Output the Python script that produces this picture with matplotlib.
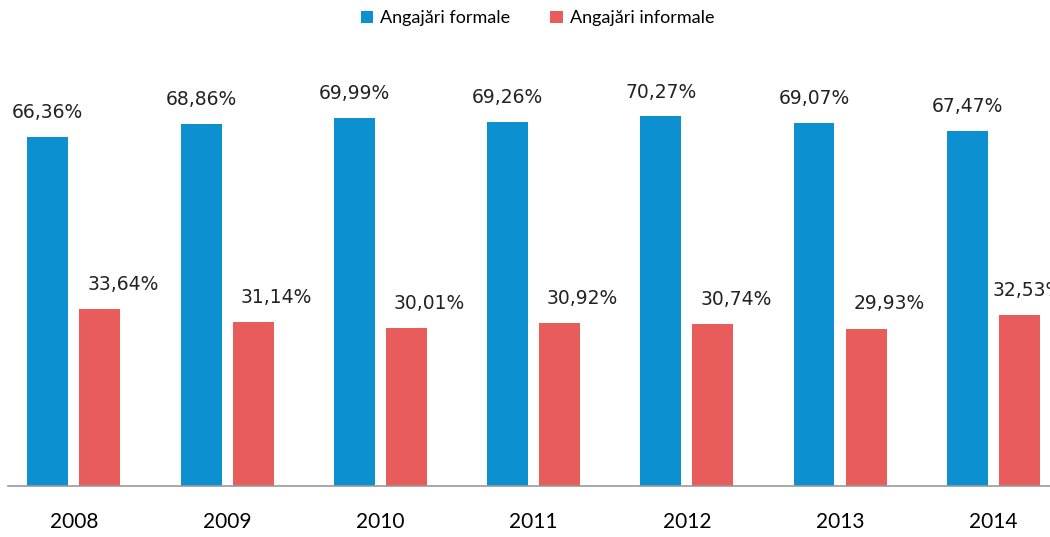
import matplotlib.pyplot as plt
import numpy as np

# datos
years = ['2008', '2009', '2010', '2011', '2012', '2013', '2014']
formale = [66.36, 68.86, 69.99, 69.26, 70.27, 69.07, 67.47]
informale = [33.64, 31.14, 30.01, 30.92, 30.74, 29.93, 32.53]
labels_formale = ['66,36%', '68,86%', '69,99%', '69,26%', '70,27%', '69,07%', '67,47%']
labels_informale = ['33,64%', '31,14%', '30,01%', '30,92%', '30,74%', '29,93%', '32,53%']

blue = '#0c90cf'
red = '#e85c5c'

fig = plt.figure(figsize=(10.5, 5.37), dpi=100)
ax = fig.add_axes([8 / 1050, 51 / 537, 1042 / 1050, 446 / 537])

x = np.arange(len(years))
w = 0.267
b1 = ax.bar(x - 0.17, formale, w, color=blue, label='Angajări formale')
b2 = ax.bar(x + 0.17, informale, w, color=red, label='Angajări informale')

for i in range(len(years)):
    ax.text(x[i] - 0.17, formale[i] + 4.6, labels_formale[i], ha='center', va='center',
            fontsize=13.5, family='DejaVu Sans', color='#222222')
    # la ultima etiqueta se corre un poco para que quepa
    dx = 0.32 if i < len(years) - 1 else 0.23
    ax.text(x[i] + dx, informale[i] + 4.7, labels_informale[i], ha='center', va='center',
            fontsize=13.5, family='DejaVu Sans', color='#222222')

ax.set_xlim(-0.43, 6.37)
ax.set_ylim(0, 84.8)
ax.set_xticks(x)
ax.set_xticklabels(years, fontsize=15, family='Lato')
ax.tick_params(axis='x', length=0, pad=19)
ax.set_yticks([])
for s in ['top', 'right', 'left']:
    ax.spines[s].set_visible(False)
ax.spines['bottom'].set_color('#999999')
ax.spines['bottom'].set_linewidth(1.2)

fig.legend(handles=[b1, b2], loc='center', bbox_to_anchor=(0.512, 0.966), ncol=2,
           frameon=False, prop={'family': 'Lato', 'size': 13}, handlelength=0.7,
           handleheight=0.7, handletextpad=0.4, columnspacing=2.2)

plt.savefig('out.png', dpi=100)
